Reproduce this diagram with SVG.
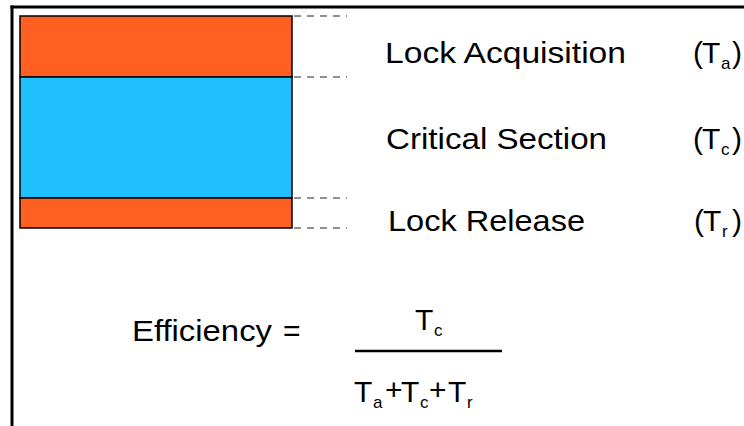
<svg xmlns="http://www.w3.org/2000/svg" width="744" height="426" viewBox="0 0 744 426">
<style>
.t{font-family:"Liberation Sans",Arial,sans-serif;font-size:30px;fill:#000}
.s{font-family:"Liberation Sans",Arial,sans-serif;font-size:17px;fill:#000}
.d{stroke:#222;stroke-width:1.2;stroke-dasharray:7,6;fill:none}
.bar{stroke:#000;stroke-width:1.5}
</style>
<rect width="744" height="426" fill="#fff"/>
<g id="frame" stroke="#000" stroke-width="3" fill="none">
<line x1="10.5" y1="7" x2="744" y2="7"/>
<line x1="12" y1="5.5" x2="12" y2="426"/>
</g>
<g id="acquisition">
<rect class="bar" x="20" y="16" width="272" height="61" fill="#FF5F20"/>
<text class="t" x="385" y="63" textLength="241" lengthAdjust="spacingAndGlyphs">Lock Acquisition</text>
<text class="t" x="693" y="63">(</text><text class="t" x="702" y="63">T</text><text class="s" x="721" y="69">a</text><text class="t" x="732" y="63">)</text>
</g>
<g id="critical">
<rect class="bar" x="20" y="77" width="272" height="121" fill="#20BFFF"/>
<text class="t" x="386" y="149" textLength="221" lengthAdjust="spacingAndGlyphs">Critical Section</text>
<text class="t" x="693" y="149">(</text><text class="t" x="702" y="149">T</text><text class="s" x="721" y="155">c</text><text class="t" x="732" y="149">)</text>
</g>
<g id="release">
<rect class="bar" x="20" y="198" width="272" height="30" fill="#FF5F20"/>
<text class="t" x="388" y="231" textLength="197" lengthAdjust="spacingAndGlyphs">Lock Release</text>
<text class="t" x="694" y="231">(</text><text class="t" x="703" y="231">T</text><text class="s" x="722" y="237">r</text><text class="t" x="732" y="231">)</text>
</g>
<g id="connectors">
<line class="d" x1="294" y1="16" x2="347" y2="16" stroke="#666"/>
<line class="d" x1="294" y1="77" x2="347" y2="77"/>
<line class="d" x1="294" y1="198" x2="347" y2="198"/>
<line class="d" x1="294" y1="228" x2="347" y2="228"/>
</g>
<g id="formula">
<text class="t" x="132" y="341" textLength="140" lengthAdjust="spacingAndGlyphs">Efficiency</text>
<text class="t" x="283" y="341">=</text>
<text class="t" x="415" y="330">T</text><text class="s" x="434" y="336">c</text>
<line x1="355" y1="351" x2="502" y2="351" stroke="#000" stroke-width="2.5"/>
<text class="t" x="354" y="402">T</text><text class="s" x="373" y="408">a</text>
<text class="t" x="385" y="400" font-size="22">+</text>
<text class="t" x="401" y="402">T</text><text class="s" x="420" y="408">c</text>
<text class="t" x="429" y="400" font-size="22">+</text>
<text class="t" x="448" y="402">T</text><text class="s" x="467" y="408">r</text>
</g>
</svg>
